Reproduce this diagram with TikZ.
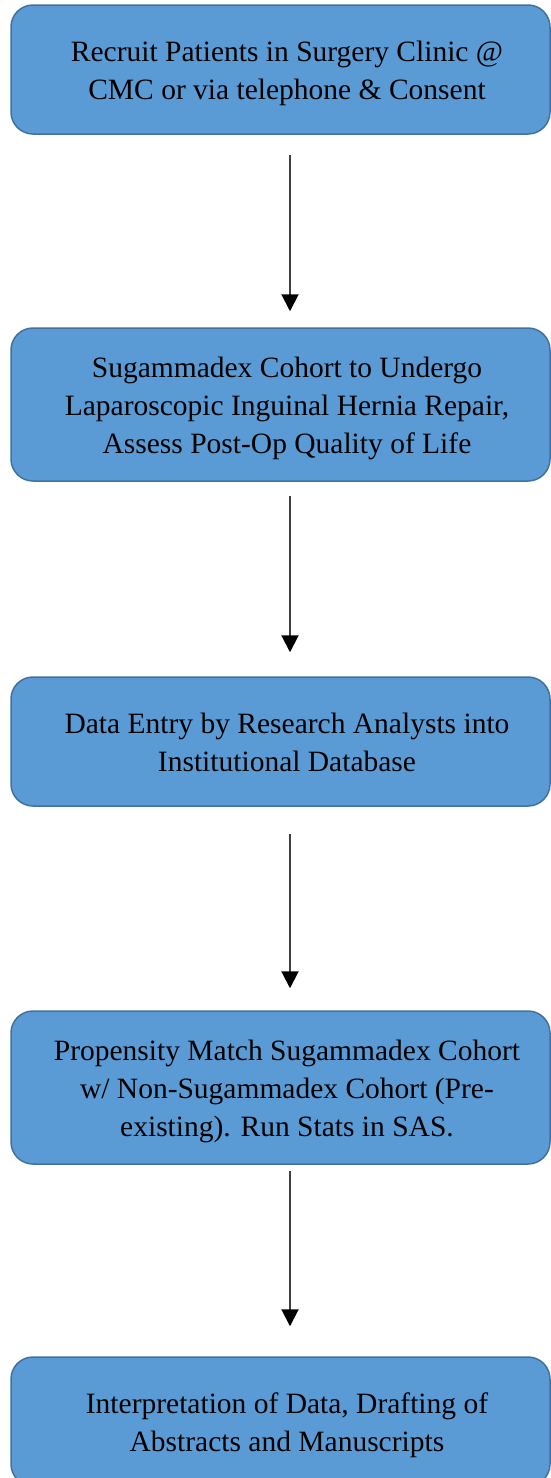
\documentclass[tikz,border=0pt]{standalone}
\usepackage{fontspec}
\setmainfont{Liberation Serif}
\usetikzlibrary{arrows.meta}
\definecolor{boxblue}{HTML}{5B9BD5}
\definecolor{boxedge}{HTML}{41719C}
\definecolor{arrowgray}{HTML}{404040}
\newcommand{\boxlines}[1]{\hspace*{13pt}\raisebox{-3pt}[\height][\depth]{\begin{tabular}{@{}c@{}}#1\end{tabular}}}
\tikzset{
    stepbox/.style={draw=boxedge, fill=boxblue, line width=1.5pt, rounded corners=22pt,
        minimum width=539pt, inner sep=0pt, font=\fontsize{29.5}{38}\selectfont},
    flowarrow/.style={-{Triangle[length=17pt,width=17pt,black]}, line width=2pt, draw=arrowgray},
}

\begin{document}
\begin{tikzpicture}[x=1pt, y=-1pt]
    \useasboundingbox (0,0) rectangle (551,1478);
    \coordinate (arrowx) at (290,0);
    \node[stepbox, minimum height=129pt] (recruit) at (280.5,69.5)
        {\boxlines{Recruit Patients in Surgery Clinic @\\CMC or via telephone \& Consent}};
    \node[stepbox, minimum height=153pt] (cohort) at (280.5,404.5)
        {\boxlines{Sugammadex Cohort to Undergo\\Laparoscopic Inguinal Hernia Repair,\\Assess Post-Op Quality of Life}};
    \node[stepbox, minimum height=129pt] (entry) at (280.5,741.5)
        {\boxlines{Data Entry by Research Analysts into\\Institutional Database}};
    \node[stepbox, minimum height=153pt] (match) at (280.5,1087.5)
        {\boxlines{Propensity Match Sugammadex Cohort\\w/ Non-Sugammadex Cohort (Pre-\\existing). Run Stats in SAS.}};
    \node[stepbox, minimum height=129pt] (interp) at (280.5,1421.5)
        {\boxlines{Interpretation of Data, Drafting of\\Abstracts and Manuscripts}};
    % arrows between the steps
    \draw[flowarrow, shorten <=20pt, shorten >=16pt] (recruit.south -| arrowx) -- (cohort.north -| arrowx);
    \draw[flowarrow, shorten <=14pt, shorten >=24pt] (cohort.south -| arrowx) -- (entry.north -| arrowx);
    \draw[flowarrow, shorten <=27pt, shorten >=22pt] (entry.south -| arrowx) -- (match.north -| arrowx);
    \draw[flowarrow, shorten <=6pt, shorten >=30pt] (match.south -| arrowx) -- (interp.north -| arrowx);
\end{tikzpicture}
\end{document}
